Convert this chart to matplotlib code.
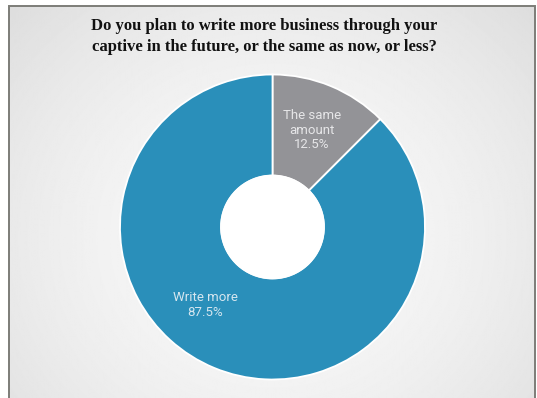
import numpy as np
import matplotlib.pyplot as plt
from matplotlib.patches import Rectangle, Circle

# survey answers
labels = ["The same\namount", "Write more"]
shares = [12.5, 87.5]
colors = ["#939397", "#2a8fba"]
title = ("Do you plan to write more business through your\n"
         "captive in the future, or the same as now, or less?")

W, H = 537, 398
fig = plt.figure(figsize=(W / 100, H / 100), dpi=100)
ax = fig.add_axes([0, 0, 1, 1])

# soft radial grey background inside the frame
yy, xx = np.mgrid[0:400, 0:530]
d = np.sqrt(((xx - 265) / 330) ** 2 + ((yy - 230) / 300) ** 2)
shade = 0.975 - 0.09 * d ** 1.8
ax.imshow(shade, cmap="gray", vmin=0, vmax=1, extent=(9, 535, -10, 392),
          origin="upper", zorder=0, aspect="auto")
ax.add_patch(Rectangle((9, -10), 526, 402, fill=False, ec="#7d7d78", lw=1.4, zorder=1))

wedges, _ = ax.pie(shares, colors=colors, startangle=90, counterclock=False,
                   center=(272.5, 171), radius=152.5,
                   wedgeprops=dict(width=101, edgecolor="white", linewidth=1.3))
for w in wedges:
    w.set_zorder(2)
ax.add_patch(Circle((272.5, 171), 51.5, fc="white", ec="white", lw=1, zorder=2.5))

ax.set_xlim(0, W)
ax.set_ylim(0, H)
ax.set_aspect("auto")
ax.axis("off")

ax.text(264, 361.5, title, ha="center", va="center", fontsize=12, fontweight="bold",
        family="Liberation Serif", color="#111111", linespacing=1.45, zorder=3)

ax.text(312, 268, labels[0] + "\n" + f"{shares[0]}%", ha="center", va="center",
        fontsize=9.5, family="Roboto", color="#e6e6e8", linespacing=1.15, zorder=3)
ax.text(205.5, 93, labels[1] + "\n" + f"{shares[1]}%", ha="center", va="center",
        fontsize=9.5, family="Roboto", color="#d5e6ef", linespacing=1.15, zorder=3)

fig.savefig("out.png", dpi=100, facecolor="white")
